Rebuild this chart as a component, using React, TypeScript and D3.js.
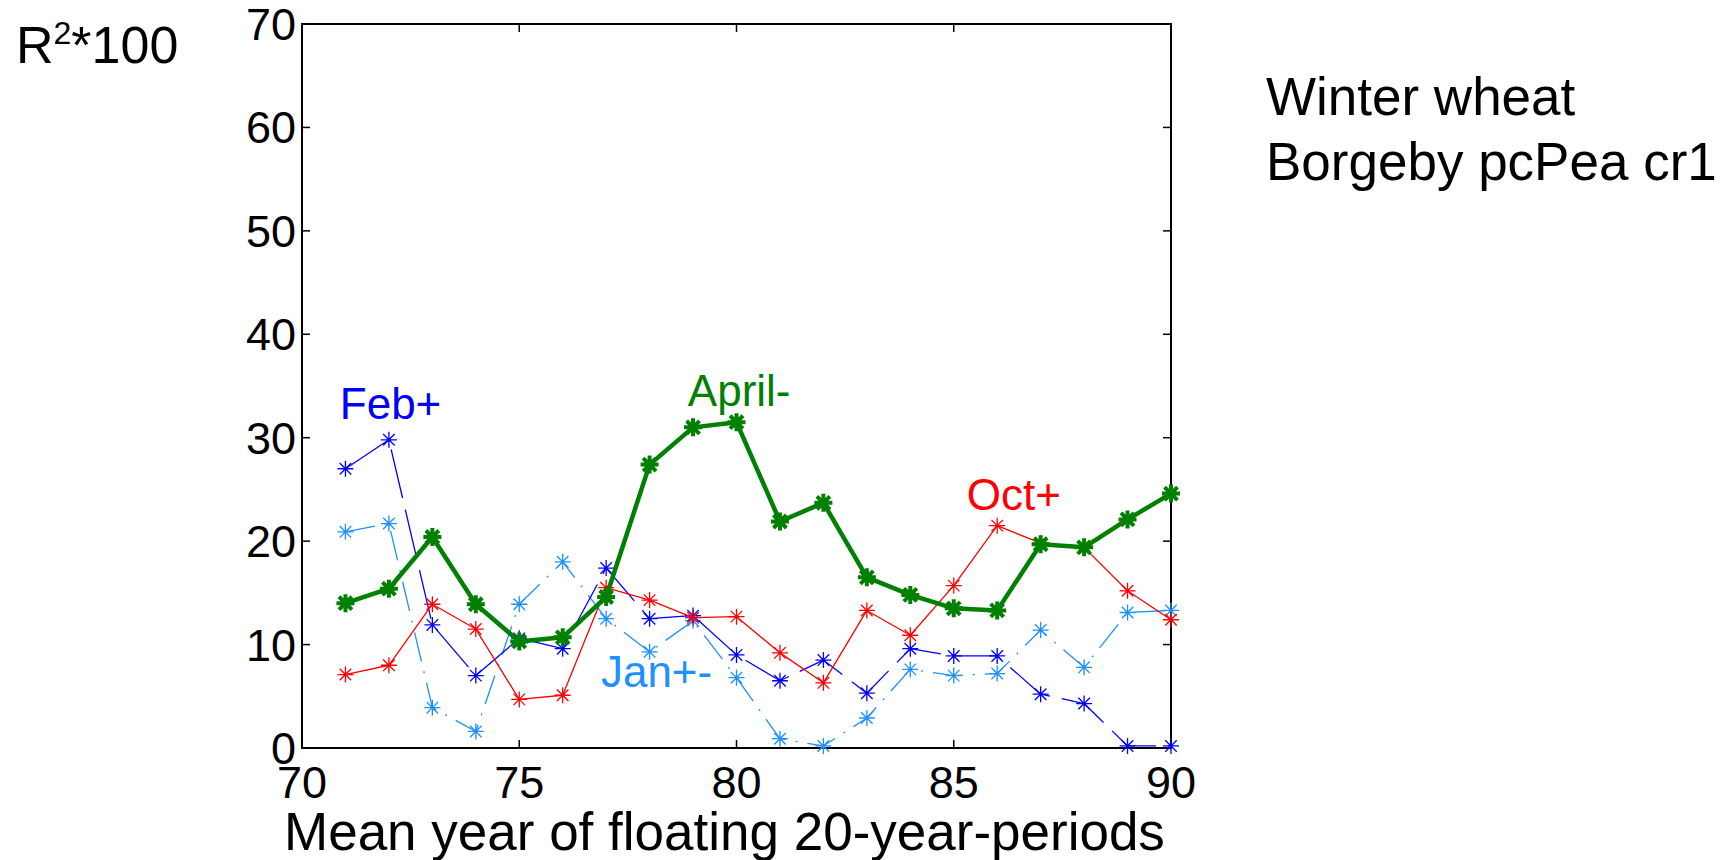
import React from "react";
import * as d3 from "d3";

const years = [71, 72, 73, 74, 75, 76, 77, 78, 79, 80, 81, 82, 83, 84, 85, 86, 87, 88, 89, 90];
const aprilMinus = [14.0, 15.4, 20.4, 13.9, 10.3, 10.7, 14.6, 27.4, 31.0, 31.5, 21.9, 23.7, 16.5, 14.8, 13.5, 13.3, 19.7, 19.4, 22.1, 24.6];
const octPlus = [7.1, 8.0, 13.9, 11.5, 4.7, 5.1, 15.5, 14.3, 12.6, 12.7, 9.2, 6.3, 13.3, 10.9, 15.7, 21.5, 19.8, 19.4, 15.2, 12.4];
const febPlus = [27.0, 29.8, 11.9, 7.0, 10.6, 9.6, 17.4, 12.5, 12.8, 9.0, 6.5, 8.5, 5.3, 9.6, 8.9, 8.9, 5.2, 4.3, 0.2, 0.2];
const janPlusMinus = [20.9, 21.7, 3.9, 1.6, 13.9, 18.0, 12.5, 9.3, 12.3, 6.8, 0.9, 0.2, 2.9, 7.6, 7.0, 7.2, 11.4, 7.8, 13.1, 13.3];

const xTicks = [70, 75, 80, 85, 90];
const yTicks = [0, 10, 20, 30, 40, 50, 60, 70];

const FONT = "Arial, 'Liberation Sans', Helvetica, sans-serif";

type Series = {
  name: string;
  values: number[];
  color: string;
  width: number;
  dash: string;
  marker: number;
  markerWidth: number;
  label: string;
  lx: number;
  ly: number;
};

const series: Series[] = [
  { name: "jan", values: janPlusMinus, color: "#1E90FF", width: 1.3, dash: "30 10 2 10", marker: 8, markerWidth: 1.3, label: "Jan+-", lx: 76.88, ly: 5.9 },
  { name: "feb", values: febPlus, color: "#0000FF", width: 1.3, dash: "50 12", marker: 8, markerWidth: 1.3, label: "Feb+", lx: 70.87, ly: 31.8 },
  { name: "oct", values: octPlus, color: "#FF0000", width: 1.3, dash: "", marker: 8, markerWidth: 1.3, label: "Oct+", lx: 85.3, ly: 23.0 },
  { name: "apr", values: aprilMinus, color: "#008000", width: 4.5, dash: "", marker: 9, markerWidth: 4, label: "April-", lx: 78.88, ly: 33.1 },
];

function asterisk(cx: number, cy: number, r: number) {
  const d = r * 0.72;
  return `M${cx - r},${cy}L${cx + r},${cy}M${cx},${cy - r}L${cx},${cy + r}M${cx - d},${cy - d}L${cx + d},${cy + d}M${cx - d},${cy + d}L${cx + d},${cy - d}`;
}

export default function App() {
  const W = 1729;
  const H = 860;
  const left = 302;
  const right = 1171;
  const top = 24;
  const bottom = 748;
  const x = d3.scaleLinear().domain([70, 90]).range([left, right]);
  const y = d3.scaleLinear().domain([0, 70]).range([bottom, top]);
  const line = d3
    .line<number>()
    .x((_, i) => x(years[i]))
    .y((v) => y(v));
  const tick = 8;

  return (
    <svg
      width={W}
      height={H}
      style={{ position: "fixed", left: 0, top: 0, background: "#fff" }}
      fontFamily={FONT}
    >
      <rect x={0} y={0} width={W} height={H} fill="#fff" />
      <rect x={left} y={top} width={right - left} height={bottom - top} fill="none" stroke="#000" strokeWidth={2} />
      {xTicks.map((t) => (
        <g key={"xt" + t}>
          <line x1={x(t)} x2={x(t)} y1={bottom} y2={bottom - tick} stroke="#000" strokeWidth={1.5} />
          <line x1={x(t)} x2={x(t)} y1={top} y2={top + tick} stroke="#000" strokeWidth={1.5} />
          <text x={x(t)} y={798} fontSize={45} textAnchor="middle" fill="#000">
            {t}
          </text>
        </g>
      ))}
      {yTicks.map((t) => (
        <g key={"yt" + t}>
          <line x1={left} x2={left + tick} y1={y(t)} y2={y(t)} stroke="#000" strokeWidth={1.5} />
          <line x1={right} x2={right - tick} y1={y(t)} y2={y(t)} stroke="#000" strokeWidth={1.5} />
          <text x={296} y={y(t) + 16} fontSize={45} textAnchor="end" fill="#000">
            {t}
          </text>
        </g>
      ))}
      {series.map((s) => (
        <g key={s.name}>
          <path
            d={line(s.values) || ""}
            fill="none"
            stroke={s.color}
            strokeWidth={s.width}
            strokeDasharray={s.dash || undefined}
            strokeLinejoin="round"
          />
          {s.values.map((v, i) => (
            <path
              key={i}
              d={asterisk(x(years[i]), y(v), s.marker)}
              stroke={s.color}
              strokeWidth={s.markerWidth}
              fill="none"
            />
          ))}
          <text x={x(s.lx)} y={y(s.ly)} fontSize={44} fill={s.color}>
            {s.label}
          </text>
        </g>
      ))}
      <text x={16} y={63} fontSize={52} fill="#000">
        R<tspan fontSize={32} dy={-19}>2</tspan>
        <tspan dy={19}>*100</tspan>
      </text>
      <text x={284} y={850} fontSize={53} fill="#000">
        Mean year of floating 20-year-periods
      </text>
      <text x={1266} y={115} fontSize={53} fill="#000">
        Winter wheat
      </text>
      <text x={1266} y={180} fontSize={53} fill="#000">
        Borgeby pcPea cr1
      </text>
    </svg>
  );
}
